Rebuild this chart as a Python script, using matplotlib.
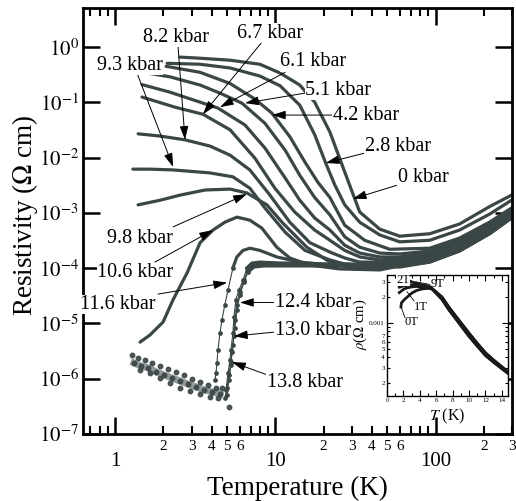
import numpy as np
import matplotlib.pyplot as plt
from matplotlib.ticker import FixedLocator, FuncFormatter, NullLocator

plt.rcParams['font.family'] = ['Liberation Serif', 'DejaVu Serif']
plt.rcParams['mathtext.fontset'] = 'stix'

# resistivity (Ohm cm) vs temperature (K) at each pressure
T_0 = [2.54, 3.39, 5.21, 8.0, 10.7, 14.2, 17.6, 21.9, 27.1, 33.6, 44.8, 59.7, 91.8, 141, 217, 298]
rho_0 = [0.66, 0.63, 0.58, 0.49, 0.34, 0.206, 0.101, 0.029, 0.0055, 1.04e-3, 5.1e-4, 3.8e-4, 4.2e-4, 6.3e-4, 1.3e-3, 2.1e-3]

T_28 = [2.11, 3.39, 5.21, 8.0, 10.7, 14.2, 17.6, 20.6, 23.5, 27.1, 33.6, 44.8, 59.7, 91.8, 141, 217, 298]
rho_28 = [0.51, 0.49, 0.42, 0.30, 0.20, 0.089, 0.026, 0.0080, 0.0032, 0.0014, 6.8e-4, 4.0e-4, 3.0e-4, 3.2e-4, 4.9e-4, 9.5e-4, 1.7e-3]

T_42 = [2.08, 3.39, 5.21, 7.45, 9.51, 12.3, 15.3, 18.4, 21.9, 27.1, 36.1, 51.7, 91.8, 141, 217, 298]
rho_42 = [0.45, 0.35, 0.22, 0.115, 0.064, 0.024, 0.0083, 0.0036, 0.0019, 6.0e-4, 3.2e-4, 2.2e-4, 2.3e-4, 3.5e-4, 6.8e-4, 1.23e-3]

T_51 = [1.49, 2.20, 3.39, 4.51, 6.18, 8.60, 11.5, 14.2, 17.6, 21.9, 27.1, 33.6, 44.8, 59.7, 91.8, 141, 217, 298]
rho_51 = [0.35, 0.29, 0.206, 0.147, 0.097, 0.042, 0.0137, 0.0048, 0.0019, 9.2e-4, 3.7e-4, 2.4e-4, 1.88e-4, 1.81e-4, 2.05e-4, 3.2e-4, 6.3e-4, 1.13e-3]

T_61 = [1.47, 2.20, 3.39, 4.38, 6.46, 8.60, 11.5, 14.2, 17.6, 21.9, 27.1, 33.6, 44.8, 59.7, 91.8, 141, 217, 298]
rho_61 = [0.21, 0.153, 0.101, 0.079, 0.039, 0.015, 0.0043, 0.0017, 8.1e-4, 4.9e-4, 2.6e-4, 1.88e-4, 1.60e-4, 1.60e-4, 1.88e-4, 3.0e-4, 5.8e-4, 1.08e-3]

T_67 = [1.47, 2.36, 3.53, 5.21, 7.45, 9.93, 13.2, 17.6, 21.9, 27.1, 33.6, 44.8, 59.7, 91.8, 141, 217, 298]
rho_67 = [0.125, 0.082, 0.061, 0.032, 0.0098, 0.0028, 1.04e-3, 4.9e-4, 3.2e-4, 2.1e-4, 1.60e-4, 1.41e-4, 1.47e-4, 1.73e-4, 2.7e-4, 5.3e-4, 1.04e-3]

T_82 = [1.39, 1.91, 2.73, 3.91, 5.21, 6.93, 9.25, 12.3, 16.4, 21.9, 27.1, 33.6, 44.8, 59.7, 91.8, 141, 217, 298]
rho_82 = [0.027, 0.0246, 0.021, 0.0162, 0.0111, 0.0060, 0.0021, 6.8e-4, 2.9e-4, 1.96e-4, 1.53e-4, 1.29e-4, 1.29e-4, 1.35e-4, 1.60e-4, 2.5e-4, 5.1e-4, 1.0e-3]

T_93 = [1.29, 1.65, 2.30, 3.91, 5.43, 6.93, 8.60, 11.5, 15.3, 21.9, 27.1, 33.6, 44.8, 59.7, 91.8, 141, 217, 298]
rho_93 = [0.0062, 0.0062, 0.0060, 0.0053, 0.0045, 0.0028, 1.23e-3, 4.5e-4, 2.1e-4, 1.41e-4, 1.19e-4, 1.14e-4, 1.14e-4, 1.24e-4, 1.53e-4, 2.4e-4, 4.9e-4, 9.5e-4]

T_98 = [1.39, 1.91, 2.54, 3.64, 5.21, 6.64, 8.85, 11.1, 15.7, 21.9, 27.1, 33.6, 44.8, 59.7, 91.8, 141, 217, 298]
rho_98 = [0.0014, 0.0017, 0.0021, 0.0026, 0.0027, 0.0023, 0.0014, 6.6e-4, 2.4e-4, 1.29e-4, 1.10e-4, 1.05e-4, 1.05e-4, 1.14e-4, 1.47e-4, 2.3e-4, 4.7e-4, 9.2e-4]

T_106 = [1.43, 1.65, 1.99, 2.30, 2.81, 3.39, 4.08, 4.84, 5.75, 6.93, 8.24, 10.2, 12.3, 16.4, 25.2, 44.8, 59.7, 91.8, 141, 217, 298]
rho_106 = [4.6e-6, 6.2e-6, 1.06e-5, 2.7e-5, 8.2e-5, 2.9e-4, 4.9e-4, 6.8e-4, 8.4e-4, 7.4e-4, 5.3e-4, 2.4e-4, 1.53e-4, 1.14e-4, 9.7e-5, 9.3e-5, 1.10e-4, 1.41e-4, 2.2e-4, 4.5e-4, 8.8e-4]

T_116 = [4.20, 4.26, 4.32, 4.38, 4.51, 4.64, 4.84, 5.06, 5.43, 5.75, 6.28, 6.93, 8.0, 10.2, 14.2, 21.9, 44.8, 59.7, 91.8, 141, 217, 298]
rho_116 = [9.5e-7, 1.27e-6, 1.93e-6, 3.3e-6, 6.7e-6, 1.16e-5, 2.2e-5, 4.0e-5, 1.01e-4, 1.60e-4, 2.1e-4, 2.3e-4, 2.1e-4, 1.60e-4, 1.29e-4, 1.14e-4, 1.01e-4, 1.10e-4, 1.35e-4, 2.1e-4, 4.3e-4, 8.4e-4]

T_124 = [4.92, 5.06, 5.21, 5.28, 5.43, 5.51, 5.67, 5.92, 6.28, 6.64, 7.14, 8.0, 10.7, 14.2, 21.9, 38.8, 59.7, 91.8, 141, 217, 298]
rho_124 = [6.3e-7, 1.27e-6, 2.2e-6, 3.3e-6, 6.7e-6, 1.31e-5, 2.7e-5, 4.0e-5, 6.1e-5, 1.01e-4, 1.24e-4, 1.29e-4, 1.24e-4, 1.24e-4, 1.19e-4, 1.19e-4, 1.14e-4, 1.35e-4, 2.1e-4, 4.3e-4, 8.4e-4]

T_130 = [4.99, 5.13, 5.28, 5.36, 5.51, 5.59, 5.75, 6.01, 6.37, 6.74, 7.24, 8.24, 10.7, 14.2, 21.9, 38.8, 59.7, 91.8, 141, 217, 298]
rho_130 = [5.1e-7, 9.5e-7, 1.78e-6, 3.1e-6, 5.9e-6, 1.16e-5, 2.2e-5, 3.7e-5, 6.1e-5, 9.3e-5, 1.14e-4, 1.19e-4, 1.14e-4, 1.14e-4, 1.14e-4, 1.14e-4, 1.10e-4, 1.29e-4, 2.05e-4, 4.2e-4, 8.1e-4]

T_138 = [4.84, 4.99, 5.13, 5.28, 5.43, 5.59, 5.75, 6.01, 6.37, 6.74, 7.35, 8.47, 10.7, 14.2, 21.9, 38.8, 59.7, 91.8, 141, 217, 298]
rho_138 = [4.5e-7, 6.8e-7, 1.17e-6, 2.0e-6, 4.1e-6, 8.3e-6, 1.75e-5, 3.3e-5, 5.6e-5, 8.5e-5, 1.05e-4, 1.10e-4, 1.10e-4, 1.10e-4, 1.10e-4, 1.10e-4, 1.05e-4, 1.29e-4, 2.05e-4, 4.2e-4, 8.1e-4]

# scattered low-T points of the high pressure runs (three rows through the cloud)
cloud_T_a = [1.28, 1.39, 1.54, 1.70, 1.91, 2.14, 2.40, 2.69, 3.02, 3.39, 3.80, 4.26, 4.64]
cloud_rho_a = [2.7e-6, 2.4e-6, 2.2e-6, 1.93e-6, 1.70e-6, 1.50e-6, 1.33e-6, 1.17e-6, 9.9e-7, 8.7e-7, 7.7e-7, 6.8e-7, 6.8e-7]
cloud_T_b = [1.31, 1.45, 1.61, 1.80, 2.02, 2.26, 2.54, 2.85, 3.20, 3.59, 4.02, 4.51]
cloud_rho_b = [1.93e-6, 1.70e-6, 1.57e-6, 1.33e-6, 1.17e-6, 1.03e-6, 9.1e-7, 8.0e-7, 7.1e-7, 6.3e-7, 5.8e-7, 5.3e-7]
cloud_T_c = [1.43, 1.65, 1.91, 2.20, 2.54, 2.93, 3.39, 3.91, 4.38, 5.13]
cloud_rho_c = [1.44e-6, 1.27e-6, 1.03e-6, 8.4e-7, 6.8e-7, 6.0e-7, 5.3e-7, 4.7e-7, 4.5e-7, 3.1e-7]

# inset: rho vs T at 0, 1, 2 and 9 T
in_T_0T = [1.7, 1.75, 2.07, 2.6, 3.05, 3.6, 4.26, 5.0, 5.5, 6.7, 7.55, 8.5, 10.0, 11.0, 12.0, 13.0, 14.0, 14.75]
in_rho_0T = [1.53e-3, 1.7e-3, 1.85e-3, 2.05e-3, 2.23e-3, 2.38e-3, 2.48e-3, 2.52e-3, 2.48e-3, 1.88e-3, 1.42e-3, 1.08e-3, 7.0e-4, 5.4e-4, 4.2e-4, 3.5e-4, 2.95e-4, 2.6e-4]
in_T_1T = [1.5, 2.0, 2.44, 3.0, 3.6, 4.3, 5.0, 5.5, 6.7, 7.55, 8.5, 10.0, 11.0, 12.0, 13.0, 14.0, 14.75]
in_rho_1T = [2.25e-3, 2.45e-3, 2.55e-3, 2.62e-3, 2.65e-3, 2.62e-3, 2.56e-3, 2.48e-3, 1.88e-3, 1.42e-3, 1.08e-3, 7.0e-4, 5.4e-4, 4.2e-4, 3.5e-4, 2.95e-4, 2.6e-4]
in_T_2T = [1.5, 2.0, 2.5, 3.0, 3.9, 4.6, 5.3, 6.7, 7.55, 8.5, 10.0, 11.0, 12.0, 13.0, 14.0, 14.75]
in_rho_2T = [2.6e-3, 2.68e-3, 2.74e-3, 2.77e-3, 2.78e-3, 2.72e-3, 2.62e-3, 2.0e-3, 1.52e-3, 1.16e-3, 7.6e-4, 5.8e-4, 4.5e-4, 3.7e-4, 3.1e-4, 2.7e-4]
in_T_9T = [1.2, 2.0, 3.0, 4.0, 5.1, 6.7, 7.55, 8.5, 10.0, 11.0, 12.0, 13.0, 14.0, 14.75]
in_rho_9T = [3.6e-3, 3.3e-3, 3.0e-3, 2.8e-3, 2.65e-3, 2.0e-3, 1.52e-3, 1.16e-3, 7.6e-4, 5.8e-4, 4.5e-4, 3.7e-4, 3.1e-4, 2.7e-4]

line_color = '#3b4646'

fig = plt.figure(figsize=(5.16, 5.01), dpi=100)
ax = fig.add_axes([0.1609, 0.1337, 0.8314, 0.850])

smooth_runs = [(T_0, rho_0), (T_28, rho_28), (T_42, rho_42), (T_51, rho_51), (T_61, rho_61),
               (T_67, rho_67), (T_82, rho_82), (T_93, rho_93), (T_98, rho_98), (T_106, rho_106)]
for T, rho in smooth_runs:
    ax.plot(T, rho, '-', color=line_color, lw=2.3, solid_capstyle='round')

# runs with a sharp drop: dotted steep part, solid above
for T, rho, n in [(T_116, rho_116, 9), (T_124, rho_124, 10), (T_130, rho_130, 10), (T_138, rho_138, 10)]:
    ax.plot(T[:n], rho[:n], 'o-', color=line_color, ms=2.4, lw=0.8)
    ax.plot(T[n - 1:], rho[n - 1:], '-', color=line_color, lw=2.3)

for T, rho in [(cloud_T_a, cloud_rho_a), (cloud_T_b, cloud_rho_b), (cloud_T_c, cloud_rho_c)]:
    ax.plot(T, rho, 'o', color=line_color, ms=3.2, alpha=0.9)
ax.plot(cloud_T_b, cloud_rho_b, '-', color=line_color, lw=5, alpha=0.55)

ax.set_xscale('log')
ax.set_yscale('log')
ax.set_xlim(0.63, 300)
ax.set_ylim(1e-7, 5.07)

ax.yaxis.set_major_locator(FixedLocator([10.0 ** k for k in range(-7, 1)]))
ax.yaxis.set_major_formatter(FuncFormatter(lambda v, p: r'$10^{%d}$' % round(np.log10(v))))
ax.yaxis.set_minor_locator(NullLocator())

ax.xaxis.set_major_locator(FixedLocator([1, 10, 100]))
ax.xaxis.set_major_formatter(FuncFormatter(lambda v, p: '%d' % v))
minor_x = [0.7, 0.8, 0.9] + [d * 10.0 ** e for e in (0, 1) for d in range(2, 10)] + [200, 300]


def minor_label(v, p):
    d = int(round(v / 10 ** np.floor(np.log10(v) + 1e-9)))
    return str(d) if (v > 1 and 2 <= d <= 6) else ''


ax.xaxis.set_minor_locator(FixedLocator(minor_x))
ax.xaxis.set_minor_formatter(FuncFormatter(minor_label))

ax.tick_params(which='both', direction='in', top=True, right=True)
ax.tick_params(axis='x', which='major', length=12, width=1.8, labelsize=15, pad=13)
ax.tick_params(axis='x', which='minor', length=6, width=1.5, labelsize=11, pad=4)
ax.tick_params(axis='y', which='major', length=12, width=1.8, labelsize=15, pad=3)
for s in ax.spines.values():
    s.set_linewidth(2.0)

ax.set_xlabel('Temperature (K)', fontsize=19.5)
ax.xaxis.set_label_coords(0.5, -0.098)
ax.set_ylabel(r'Resistivity ($\Omega$ cm)', fontsize=19.5)
ax.yaxis.set_label_coords(-0.10, 0.514)

# pressure labels: text, text anchor (left, centre), arrow tail, arrow tip
labels = [
    ('9.3 kbar', (0.77, 0.47), (1.33, 0.42), (2.30, 6.8e-3)),
    ('8.2 kbar', (1.49, 1.52), (2.47, 1.0), (2.73, 0.021)),
    ('6.7 kbar', (5.75, 1.79), (8.24, 1.23), (3.53, 0.061)),
    ('6.1 kbar', (10.7, 0.54), (11.5, 0.35), (4.51, 0.082)),
    ('5.1 kbar', (15.3, 0.167), (15.3, 0.147), (6.46, 0.097)),
    ('4.2 kbar', (22.8, 0.059), (22.8, 0.059), (9.51, 0.059)),
    ('2.8 kbar', (36.1, 0.0156), (36.1, 0.0121), (20.6, 8.0e-3)),
    ('0 kbar', (58.0, 4.3e-3), (58.0, 3.2e-3), (30.4, 1.8e-3)),
    ('9.8 kbar', (0.89, 3.5e-4), (2.30, 5.6e-4), (6.64, 2.2e-3)),
    ('10.6 kbar', (0.77, 8.2e-5), (1.77, 1.29e-4), (4.08, 4.9e-4)),
    ('11.6 kbar', (0.605, 2.2e-5), (1.85, 3.4e-5), (5.0, 5.5e-5)),
    ('12.4 kbar', (9.93, 2.4e-5), (9.93, 2.4e-5), (6.01, 2.4e-5)),
    ('13.0 kbar', (9.93, 7.6e-6), (9.93, 7.0e-6), (5.51, 5.9e-6)),
    ('13.8 kbar', (8.85, 8.4e-7), (9.64, 1.08e-6), (5.36, 2.0e-6)),
]
for txt, pos, tail, tip in labels:
    ax.annotate('', xy=tip, xytext=tail,
                arrowprops=dict(arrowstyle='-|>,head_length=0.7,head_width=0.22', color='black',
                                lw=0.7, shrinkA=0, shrinkB=0, mutation_scale=12), zorder=4)
    ax.text(pos[0], pos[1], txt, fontsize=14.5, ha='left', va='center', zorder=5,
            bbox=dict(facecolor='white', edgecolor='none', pad=0.3))

# inset
axi = fig.add_axes([0.750, 0.2096, 0.2345, 0.2415])
for T, rho in [(in_T_0T, in_rho_0T), (in_T_1T, in_rho_1T), (in_T_2T, in_rho_2T), (in_T_9T, in_rho_9T)]:
    axi.plot(T, rho, '-', color='#1a1a1a', lw=2.0)
axi.set_yscale('log')
axi.set_xlim(0, 14.75)
axi.set_ylim(1.42e-4, 3.6e-3)
axi.xaxis.set_major_locator(FixedLocator(list(range(0, 15, 2))))
axi.xaxis.set_minor_locator(FixedLocator(list(range(1, 15, 2))))
axi.yaxis.set_major_locator(FixedLocator([1e-3]))
axi.yaxis.set_major_formatter(FuncFormatter(lambda v, p: '0.001'))
axi.yaxis.set_minor_locator(FixedLocator([d * 1e-4 for d in range(2, 10)] + [2e-3, 3e-3]))


def inset_minor(v, p):
    d = int(round(v / 10 ** np.floor(np.log10(v) + 1e-9)))
    return str(d) if 2 <= d <= 7 else ''


axi.yaxis.set_minor_formatter(FuncFormatter(inset_minor))
axi.tick_params(which='both', direction='in', top=True, right=True, labelsize=5, pad=1.5, width=0.8)
axi.tick_params(which='major', length=4)
axi.tick_params(which='minor', length=2.5)
for s in axi.spines.values():
    s.set_linewidth(1.0)
axi.set_xlabel(r'$T$ (K)', fontsize=11.5, labelpad=0)
axi.xaxis.set_label_coords(0.5, -0.09)
axi.set_ylabel(r'$\rho$($\Omega$ cm)', fontsize=10.5)
axi.yaxis.set_label_coords(-0.15, 0.59)

axi.text(1.1, 3.16e-3, '2T', fontsize=9, ha='left', va='center',
         bbox=dict(facecolor='white', edgecolor='none', pad=0.1))
axi.text(5.3, 2.8e-3, '9T', fontsize=9, ha='left', va='center')
axi.plot([5.2, 3.5], [2.8e-3, 3.0e-3], '-', color='black', lw=0.6)
axi.text(3.3, 1.55e-3, '1T', fontsize=9, ha='left', va='center')
axi.plot([3.3, 2.44], [1.8e-3, 2.3e-3], '-', color='black', lw=0.6)
axi.text(2.1, 1.03e-3, '0T', fontsize=9, ha='left', va='center')
axi.plot([1.75, 2.2], [1.5e-3, 1.15e-3], '-', color='black', lw=0.6)

fig.savefig('out.png', dpi=100)
